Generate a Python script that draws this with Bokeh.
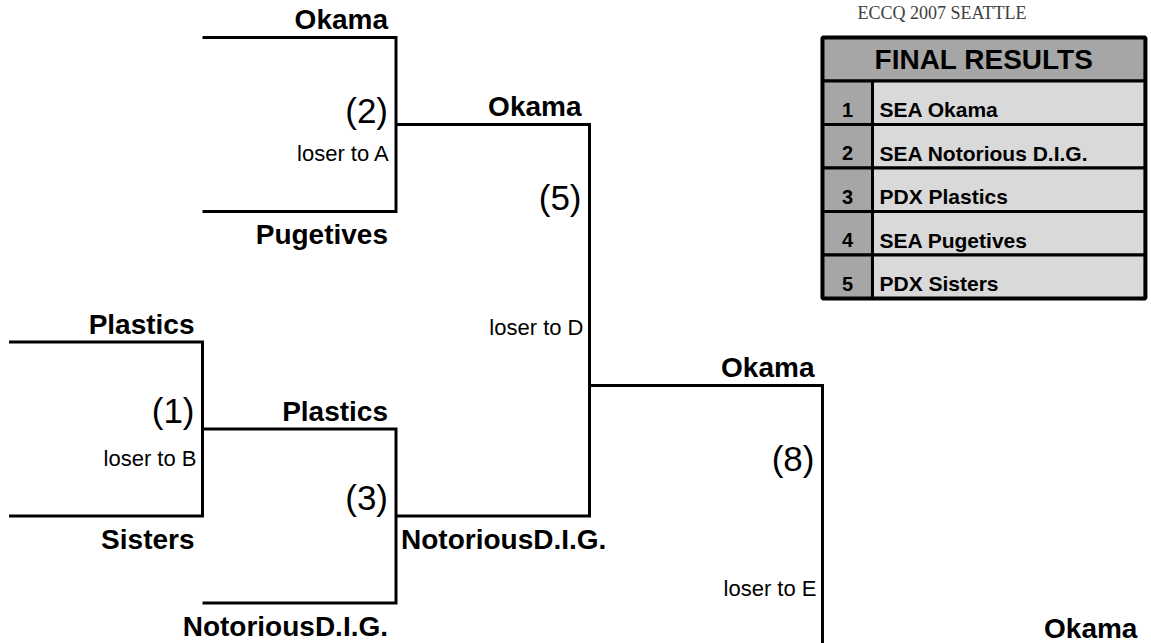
from bokeh.plotting import figure
from bokeh.models import Range1d
from bokeh.core.properties import value
from bokeh.embed import file_html
from bokeh.resources import INLINE

# ---------------- data ----------------
event_title = "ECCQ 2007 SEATTLE"
match_labels = ["(2)", "(1)", "(3)", "(5)", "(8)"]
match_round = [2, 1, 2, 3, 4]                 # bracket column of each match
top_team = ["Okama", "Plastics", "Plastics", "Okama", "Okama"]
bottom_team = ["Pugetives", "Sisters", "NotoriousD.I.G.", "NotoriousD.I.G.", ""]
top_slot = [0, 21, 27, 6, 24]                 # bracket rows
bottom_slot = [12, 33, 39, 33, 60]
winner_slot = [6, 27, 33, 24, 42]
number_slot = [5, 25.7, 31.7, 11, 29]
loser_note = ["loser to A", "loser to B", "", "loser to D", "loser to E"]
loser_slot = [8, 29, 0, 20, 38]
champion = "Okama"

results_title = "FINAL RESULTS"
ranks = ["1", "2", "3", "4", "5"]
finishers = ["SEA Okama", "SEA Notorious D.I.G.", "PDX Plastics", "SEA Pugetives", "PDX Sisters"]

# ---------------- layout ----------------
COL_EDGE = [0.0, 1.0, 2.0, 3.0, 4.204, 5.873]
BOTTOM_ALIGN = ["right", "right", "right", "left", "right"]
PX_X = 193.5          # pixels per column unit
PX_Y = 14.5           # pixels per bracket row
W, H = 1151, 643
X0 = -8.5 / PX_X
Y0 = -37.0 / PX_Y


def dx(px):
    return px / PX_X


def dy(px):
    return px / PX_Y


p = figure(width=W, height=H,
           x_range=Range1d(X0, X0 + W / PX_X),
           y_range=Range1d(Y0 + H / PX_Y, Y0),
           x_axis_type=None, y_axis_type=None,
           toolbar_location=None, output_backend="svg",
           min_border=0, outline_line_color=None,
           background_fill_color="white", border_fill_color="white")

FONT = value("Liberation Sans")

# bracket lines
xs, ys = [], []
for c, t, b in zip(match_round, top_slot, bottom_slot):
    xs.append([COL_EDGE[c - 1], COL_EDGE[c], COL_EDGE[c], COL_EDGE[c - 1]])
    ys.append([t, t, b, b])
p.multi_line(xs, ys, line_color="black", line_width=3, line_join="miter")

# team labels (right aligned)
lx, ly, lt = [], [], []
ax, ay, at = [], [], []   # left aligned labels
for c, t, b, tt, bt, al in zip(match_round, top_slot, bottom_slot, top_team,
                               bottom_team, BOTTOM_ALIGN):
    lx.append(COL_EDGE[c] - dx(8)); ly.append(t - dy(18)); lt.append(tt)
    if bt:
        if al == "right":
            lx.append(COL_EDGE[c] - dx(8)); ly.append(b + dy(23)); lt.append(bt)
        else:
            ax.append(COL_EDGE[c - 1] + dx(5)); ay.append(b + dy(23)); at.append(bt)
lx.append(COL_EDGE[match_round[-1] + 1] - dx(8)); ly.append(winner_slot[-1] - dy(18)); lt.append(champion)
p.text(x=lx, y=ly, text=lt, text_font=FONT, text_font_style="bold",
       text_font_size="28px", text_align="right", text_baseline="middle",
       text_color="black")
p.text(x=ax, y=ay, text=at, text_font=FONT, text_font_style="bold",
       text_font_size="28px", text_align="left", text_baseline="middle",
       text_color="black")

# match numbers
p.text(x=[COL_EDGE[c] - dx(8) for c in match_round], y=number_slot, text=match_labels,
       text_font=FONT, text_font_size="35px", text_align="right",
       text_baseline="middle", text_color="black")

# loser notes
nx, ny, nt = [], [], []
for c, s, n in zip(match_round, loser_slot, loser_note):
    if n:
        nx.append(COL_EDGE[c] - dx(6)); ny.append(s); nt.append(n)
p.text(x=nx, y=ny, text=nt, text_font=FONT, text_font_size="22px",
       text_align="right", text_baseline="middle", text_color="black")

# results table
tx0, tx1 = COL_EDGE[4], COL_EDGE[5]
rank_w = dx(50)
HEAD = 3
ROW = 3
p.quad(left=[tx0], right=[tx1], top=[0], bottom=[HEAD],
       fill_color="#a6a6a6", line_color="black", line_width=3)
n = len(ranks)
tops = [HEAD + ROW * i for i in range(n)]
bots = [HEAD + ROW * (i + 1) for i in range(n)]
p.quad(left=[tx0] * n, right=[tx0 + rank_w] * n, top=tops, bottom=bots,
       fill_color="#a6a6a6", line_color="black", line_width=3)
p.quad(left=[tx0 + rank_w] * n, right=[tx1] * n, top=tops, bottom=bots,
       fill_color="#d9d9d9", line_color="black", line_width=3)
p.quad(left=[tx0], right=[tx1], top=[0], bottom=[HEAD + ROW * n],
       fill_color=None, line_color="black", line_width=4)

p.text(x=[(tx0 + tx1) / 2], y=[HEAD / 2], text=[results_title], text_font=FONT,
       text_font_style="bold", text_font_size="28px", text_align="center",
       text_baseline="middle", text_color="black")
row_y = [b - dy(15) for b in bots]
p.text(x=[tx0 + rank_w / 2] * n, y=row_y, text=ranks, text_font=FONT,
       text_font_style="bold", text_font_size="20px", text_align="center",
       text_baseline="middle", text_color="black")
p.text(x=[tx0 + rank_w + dx(7)] * n, y=row_y, text=finishers, text_font=FONT,
       text_font_style="bold", text_font_size="21px", text_align="left",
       text_baseline="middle", text_color="black")

# event title
p.text(x=[tx0 + dx(35)], y=[Y0 + dy(12)], text=[event_title],
       text_font=value("Liberation Serif"), text_font_size="18px",
       text_align="left", text_baseline="middle", text_color="#404040")

open("out.html", "w").write(file_html(p, INLINE))
